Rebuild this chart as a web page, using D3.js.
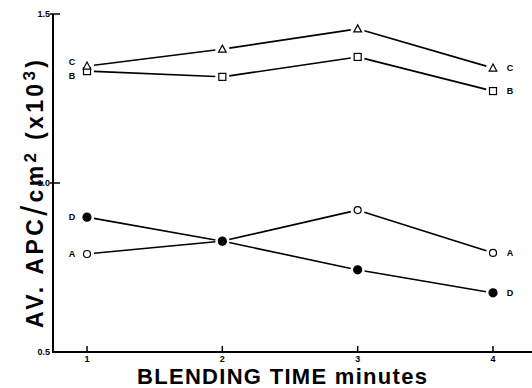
<!DOCTYPE html>
<html><head><meta charset="utf-8">
<script src="https://cdn.jsdelivr.net/npm/d3@7"></script>
<style>body{margin:0;background:#fff}svg{display:block}text{font-family:"Liberation Sans",Arial,sans-serif;font-weight:bold;fill:#000}</style>
</head><body>
<script>
const times = [1, 2, 3, 4];
const seriesNames = ["A", "B", "C", "D"];
const valuesA = [0.79, 0.828, 0.92, 0.793];
const valuesB = [1.331, 1.314, 1.373, 1.272];
const valuesC = [1.346, 1.396, 1.456, 1.34];
const valuesD = [0.899, 0.828, 0.743, 0.675];
const yTicks = [0.5, 1.0, 1.5];
const yTickLabels = ["0.5", "1.0", "1.5"];
const xTickLabels = ["1", "2", "3", "4"];
const xTitle = "BLENDING TIME minutes";

const W = 532, H = 388;
const svg = d3.select("body").append("svg").attr("width", W).attr("height", H);
const x = d3.scaleLinear().domain([1, 4]).range([87, 493]);
const y = d3.scaleLinear().domain([0.5, 1.5]).range([352, 14]);
const x0 = 53, xEnd = 532;

// axes
svg.append("line").attr("x1", x0).attr("x2", x0).attr("y1", y(1.5)).attr("y2", y(0.5)+1)
  .attr("stroke", "#000").attr("stroke-width", 2);
svg.append("line").attr("x1", x0).attr("x2", xEnd).attr("y1", y(0.5)).attr("y2", y(0.5))
  .attr("stroke", "#000").attr("stroke-width", 2);
yTicks.forEach((t, i) => {
  if (t > 0.5) svg.append("line").attr("x1", x0 - 3).attr("x2", x0 + 7).attr("y1", y(t)).attr("y2", y(t)).attr("stroke", "#000").attr("stroke-width", 1.5);
  svg.append("text").attr("x", x0 - 3).attr("y", y(t) + 3).attr("text-anchor", "end").attr("font-size", 9).text(yTickLabels[i]);
});
times.forEach((t, i) => {
  svg.append("line").attr("x1", x(t)).attr("x2", x(t)).attr("y1", y(0.5) - 6).attr("y2", y(0.5)).attr("stroke", "#000").attr("stroke-width", 1.5);
  svg.append("text").attr("x", x(t)).attr("y", 362).attr("text-anchor", "middle").attr("font-size", 9).text(xTickLabels[i]);
});

// titles
svg.append("text").attr("x", 282).attr("y", 384).attr("text-anchor", "middle").attr("font-size", 22)
  .attr("textLength", 290).attr("lengthAdjust", "spacing").text(xTitle);
const yt = svg.append("text").attr("transform", "translate(43,194) rotate(-90)").attr("text-anchor", "middle").attr("font-size", 23)
  .attr("textLength", 268).attr("lengthAdjust", "spacing");
yt.append("tspan").text("AV. APC");
yt.append("tspan").attr("font-size", 36).attr("font-weight", "normal").attr("dy", 4).text("/");
yt.append("tspan").attr("dy", -4).text("cm");
yt.append("tspan").attr("font-size", 17).attr("dy", -7).text("2");
yt.append("tspan").attr("dy", 7).text(" (x10");
yt.append("tspan").attr("font-size", 17).attr("dy", -8).text("3");
yt.append("tspan").attr("dy", 8).text(")");

const series = [
  {name: "A", vals: valuesA, shape: "circle", fill: "#fff", ldy: 0, rdy: 0},
  {name: "B", vals: valuesB, shape: "square", fill: "#fff", ldy: 5, rdy: 0},
  {name: "C", vals: valuesC, shape: "triangle", fill: "#fff", ldy: -4, rdy: 0},
  {name: "D", vals: valuesD, shape: "circle", fill: "#000", ldy: 0, rdy: 0}
];
const gap = 7;
series.forEach(s => {
  const pts = times.map((t, i) => [x(t), y(s.vals[i])]);
  for (let i = 0; i < pts.length - 1; i++) {
    const [ax, ay] = pts[i], [bx, by] = pts[i + 1];
    const L = Math.hypot(bx - ax, by - ay), ux = (bx - ax) / L, uy = (by - ay) / L;
    svg.append("line").attr("x1", ax + ux * gap).attr("y1", ay + uy * gap)
      .attr("x2", bx - ux * gap).attr("y2", by - uy * gap)
      .attr("stroke", "#000").attr("stroke-width", 1.6);
  }
  pts.forEach(([px, py]) => {
    if (s.shape === "circle") {
      svg.append("circle").attr("cx", px).attr("cy", py).attr("r", s.fill === "#000" ? 4 : 3.5)
        .attr("fill", s.fill).attr("stroke", "#000").attr("stroke-width", 1.2);
    } else if (s.shape === "square") {
      svg.append("rect").attr("x", px - 3.5).attr("y", py - 3.5).attr("width", 7).attr("height", 7)
        .attr("fill", "#fff").attr("stroke", "#000").attr("stroke-width", 1.2);
    } else {
      svg.append("path").attr("d", `M${px},${py - 4}L${px + 3.8},${py + 3}L${px - 3.8},${py + 3}Z`)
        .attr("fill", "#fff").attr("stroke", "#000").attr("stroke-width", 1.2);
    }
  });
  svg.append("text").attr("x", pts[0][0] - 15).attr("y", pts[0][1] + s.ldy + 3).attr("text-anchor", "middle").attr("font-size", 9).text(s.name);
  svg.append("text").attr("x", pts[3][0] + 17).attr("y", pts[3][1] + s.rdy + 3).attr("text-anchor", "middle").attr("font-size", 9).text(s.name);
});
</script>
</body></html>
